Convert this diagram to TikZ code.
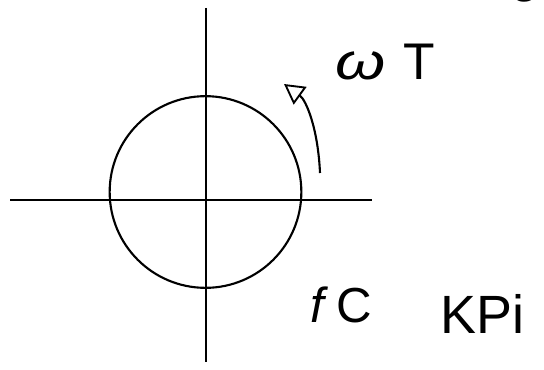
\documentclass[tikz,border=0pt]{standalone}
\usepackage{fontspec}
\setsansfont{Liberation Sans}
\usepackage{tikz}
\usetikzlibrary{arrows.meta,positioning}

\begin{document}
\begin{tikzpicture}[
  x=0.03cm, y=-0.03cm,
  axis/.style={line width=1.8pt, black},
  ring/.style={line width=1.8pt, black},
  rot/.style={-{Triangle[open, length=6mm, width=6.5mm, line width=1.6pt]}, line width=1.8pt},
  hand/.style={font=\fontsize{44}{44}\selectfont\sffamily, inner sep=0pt, anchor=base west},
]
\useasboundingbox (0,0) rectangle (544,369);

% axes
\coordinate (xl) at (10,200);
\coordinate (xr) at (372,200);
\coordinate (yt) at (206,8);
\coordinate (yb) at (206,362);
\draw[axis] (xl) -- (xr);
\draw[axis] (yt) -- (yb);

% circle
\node[ring, draw, circle, minimum size=5.75cm, inner sep=0pt] (wheel) at (205.5,192) {};

% rotation arrow
\coordinate (a0) at (320,173);
\coordinate (a1) at (284,84);
\draw[rot] (a0) .. controls (318,128) and (306,100) .. (a1);

% labels
\node[hand] (wt)  at (335,80)  {\scalebox{1.25}[1]{\textit{ω}}\hspace{0.35em}T};
\node[hand, font=\fontsize{42}{42}\selectfont\sffamily] (fc) at (310,322) {\textit{f}\,C};
\node[hand, font=\fontsize{46}{46}\selectfont\sffamily] (kpi) at (440,333) {KPi};
\node[hand] (top) at (514,-8)  {\textit{g}};

\end{tikzpicture}
\end{document}
